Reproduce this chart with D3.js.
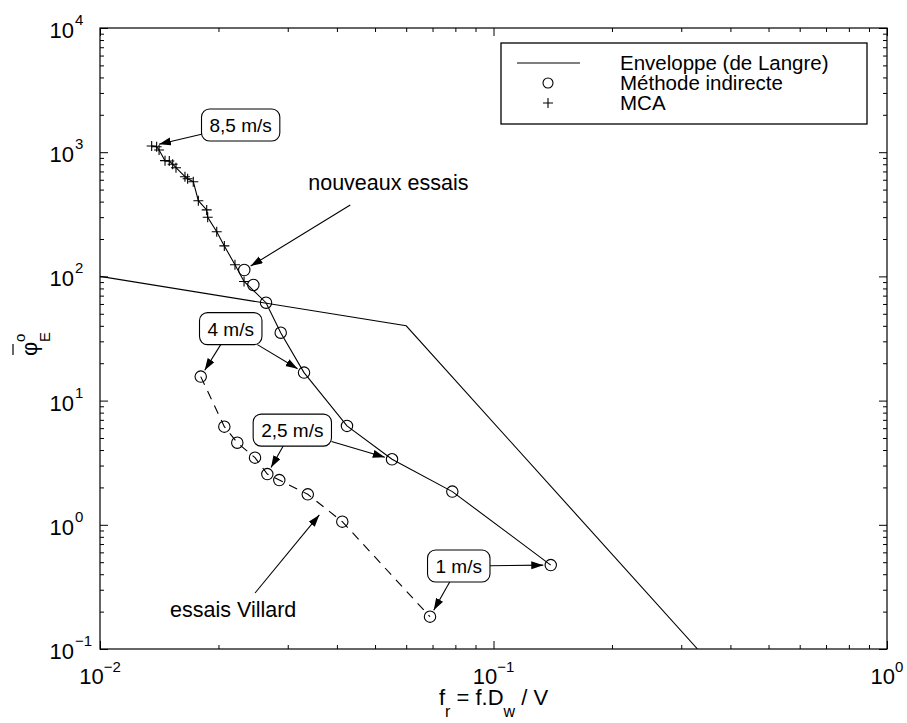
<!DOCTYPE html>
<html>
<head>
<meta charset="utf-8">
<script src="https://cdn.jsdelivr.net/npm/d3@7"></script>
<style>
body { margin: 0; background: #fff; }
text { font-family: "Liberation Sans", Arial, Helvetica, sans-serif; fill: #000; }
</style>
</head>
<body>
<svg id="chart" width="907" height="723"></svg>
<script>
// MCA (+)
const mcaFr = [0.01353, 0.01393, 0.01413, 0.01463, 0.0150, 0.0153, 0.0156, 0.01644, 0.0167, 0.01726, 0.01778, 0.01867, 0.01878, 0.0198, 0.0207, 0.02203, 0.02323];
const mcaPhi = [1122, 1107, 1042, 855, 849, 800, 750, 635, 612, 579, 407, 343, 299, 229, 176, 124, 91];
// Methode indirecte - nouveaux essais
const nouvFr = [0.02326, 0.02453, 0.02642, 0.02879, 0.0330, 0.04243, 0.05522, 0.07859, 0.1398];
const nouvPhi = [112.6, 85.3, 61.4, 35.2, 16.8, 6.25, 3.37, 1.85, 0.474];
// Methode indirecte - essais Villard
const villFr = [0.01803, 0.0207, 0.02233, 0.02477, 0.02662, 0.02855, 0.03373, 0.04128, 0.06897];
const villPhi = [15.6, 6.17, 4.58, 3.47, 2.56, 2.29, 1.76, 1.06, 0.182];
// Enveloppe (de Langre)
const envFr = [0.01, 0.06, 0.33];
const envPhi = [100, 40, 0.1];

const xDecades = [-2, -1, 0];
const yDecades = [-1, 0, 1, 2, 3, 4];
const legendLabels = ['Enveloppe (de Langre)', 'Méthode indirecte', 'MCA'];

(function() {
const svg = d3.select('svg#chart');
const margin = { top: 28, right: 20, bottom: 74, left: 100 };
const width = +svg.attr('width') - margin.left - margin.right;
const height = +svg.attr('height') - margin.top - margin.bottom;

const x = d3.scaleLog().domain([0.01, 1]).range([0, width]);
const y = d3.scaleLog().domain([0.1, 10000]).range([height, 0]);

const zip = (a, b) => a.map((v, i) => [v, b[i]]);
const mca = zip(mcaFr, mcaPhi);
const nouv = zip(nouvFr, nouvPhi);
const vill = zip(villFr, villPhi);
const env = zip(envFr, envPhi);
const series = { mca, nouv, vill };

const defs = svg.append('defs');
defs.append('clipPath').attr('id', 'clip')
  .append('rect').attr('width', width).attr('height', height);
defs.append('marker')
  .attr('id', 'arrow')
  .attr('markerUnits', 'userSpaceOnUse')
  .attr('markerWidth', 13).attr('markerHeight', 9)
  .attr('refX', 12).attr('refY', 4)
  .attr('orient', 'auto')
  .append('path').attr('d', 'M0,0L12,4L0,8Z').attr('fill', 'black');

const g = svg.append('g').attr('transform', `translate(${margin.left},${margin.top})`);

// ticks, inward on all sides
const isMajor = d => Math.abs(Math.log10(d) - Math.round(Math.log10(d))) < 1e-6;
function fixTicks(sel, attr) {
  sel.select('.domain').remove();
  sel.selectAll('.tick text').remove();
  sel.selectAll('.tick line')
    .attr('stroke', 'black')
    .attr(attr, function(d) {
      const v = +d3.select(this).attr(attr);
      return isMajor(d) ? v : v / 2;
    });
}
g.append('g').attr('transform', `translate(0,${height})`)
  .call(d3.axisBottom(x).tickSize(-8).tickFormat('')).call(fixTicks, 'y2');
g.append('g')
  .call(d3.axisTop(x).tickSize(-8).tickFormat('')).call(fixTicks, 'y2');
g.append('g')
  .call(d3.axisLeft(y).tickSize(-8).tickFormat('')).call(fixTicks, 'x2');
g.append('g').attr('transform', `translate(${width},0)`)
  .call(d3.axisRight(y).tickSize(-8).tickFormat('')).call(fixTicks, 'x2');

g.append('rect')
  .attr('width', width).attr('height', height)
  .attr('fill', 'none').attr('stroke', 'black').attr('stroke-width', 1.2);

// tick labels
const sup = e => (e < 0 ? '\u2212' + (-e) : '' + e);
xDecades.forEach(e => {
  const t = g.append('text')
    .attr('x', x(Math.pow(10, e))).attr('y', height + 35)
    .attr('text-anchor', 'middle').attr('font-size', 22);
  t.append('tspan').text('10');
  t.append('tspan').attr('dy', -12).attr('font-size', 15).text(sup(e));
});
yDecades.forEach(e => {
  const yy = y(Math.pow(10, e));
  g.append('text')
    .attr('x', -26).attr('y', yy + 10)
    .attr('text-anchor', 'end').attr('font-size', 22).text('10');
  g.append('text')
    .attr('x', -25).attr('y', yy - 3)
    .attr('font-size', 15).text(sup(e));
});

// axis titles
const xt = g.append('text')
  .attr('x', width / 2).attr('y', height + 56)
  .attr('text-anchor', 'middle').attr('font-size', 22);
xt.append('tspan').text('f');
xt.append('tspan').attr('dy', 12).attr('font-size', 16).text('r');
xt.append('tspan').attr('dy', -12).text(' = f.D');
xt.append('tspan').attr('dy', 12).attr('font-size', 16).text('w');
xt.append('tspan').attr('dy', -12).text(' / V');

const yt = svg.append('g').attr('transform', 'translate(37,356) rotate(-90)');
yt.append('text').attr('font-size', 22).text('\u03c6');
yt.append('text').attr('x', 14).attr('y', -12).attr('font-size', 15).text('o');
yt.append('text').attr('x', 14).attr('y', 13).attr('font-size', 15).text('E');
yt.append('line').attr('x1', 1).attr('x2', 12).attr('y1', -24).attr('y2', -24)
  .attr('stroke', 'black').attr('stroke-width', 1.2);

// lines
const plot = g.append('g').attr('clip-path', 'url(#clip)');
const line = d3.line().x(d => x(d[0])).y(d => y(d[1]));
plot.append('path').datum(env).attr('d', line)
  .attr('fill', 'none').attr('stroke', 'black').attr('stroke-width', 1.1);
plot.append('path').datum(mca.concat(nouv.slice(2))).attr('d', line)
  .attr('fill', 'none').attr('stroke', 'black').attr('stroke-width', 1.1);
plot.append('path').datum(vill).attr('d', line)
  .attr('fill', 'none').attr('stroke', 'black').attr('stroke-width', 1.1)
  .attr('stroke-dasharray', '9,7');

// markers
plot.selectAll('circle.pt').data(nouv.concat(vill)).join('circle')
  .attr('class', 'pt')
  .attr('cx', d => x(d[0])).attr('cy', d => y(d[1])).attr('r', 5.7)
  .attr('fill', 'none').attr('stroke', 'black').attr('stroke-width', 1.1);
plot.selectAll('path.plus').data(mca).join('path')
  .attr('class', 'plus')
  .attr('transform', d => `translate(${x(d[0])},${y(d[1])})`)
  .attr('d', 'M-5,0H5M0,-5V5')
  .attr('stroke', 'black').attr('stroke-width', 1.1);

// annotations
const px = p => [margin.left + x(p[0]), margin.top + y(p[1])];
const boxAnnos = [
  { label: '8,5 m/s', targets: [['mca', 0]], dx: 89, dy: -21 },
  { label: '4 m/s', targets: [['vill', 0], ['nouv', 4]], dx: 30, dy: -48 },
  { label: '2,5 m/s', targets: [['vill', 4], ['nouv', 6]], dx: 25, dy: -44 },
  { label: '1 m/s', targets: [['nouv', 8], ['vill', 8]], dx: -92, dy: 1 },
];
const ann = svg.append('g');
function arrow(from, to, gap) {
  const ddx = to[0] - from[0], ddy = to[1] - from[1];
  const len = Math.hypot(ddx, ddy);
  const tip = [to[0] - ddx / len * gap, to[1] - ddy / len * gap];
  ann.append('line')
    .attr('x1', from[0]).attr('y1', from[1]).attr('x2', tip[0]).attr('y2', tip[1])
    .attr('stroke', 'black').attr('stroke-width', 1.1)
    .attr('marker-end', 'url(#arrow)');
}
boxAnnos.forEach(a => {
  const t0 = px(series[a.targets[0][0]][a.targets[0][1]]);
  const cx = t0[0] + a.dx, cy = t0[1] + a.dy;
  const bg = ann.append('g');
  const rect = bg.append('rect');
  const txt = bg.append('text')
    .attr('x', cx).attr('y', cy + 7)
    .attr('text-anchor', 'middle').attr('font-size', 19).text(a.label);
  const hw = txt.node().getComputedTextLength() / 2 + 8, hh = 16;
  rect.attr('x', cx - hw).attr('y', cy - hh).attr('width', 2 * hw).attr('height', 2 * hh)
    .attr('rx', 8).attr('fill', 'white').attr('stroke', 'black').attr('stroke-width', 1.1);
  a.targets.forEach(tg => {
    const p = px(series[tg[0]][tg[1]]);
    const ddx = p[0] - cx, ddy = p[1] - cy;
    const t = Math.min(Math.abs(hw / ddx), Math.abs(hh / ddy));
    arrow([cx + ddx * t, cy + ddy * t], p, 7.5);
  });
});

const geo = (a, b) => [Math.sqrt(a[0] * b[0]), Math.sqrt(a[1] * b[1])];
const textAnnos = [
  { label: 'nouveaux essais', target: nouv[0], dx: 64, dy: -80, ax: 42, ay: 15, gap: 7.5 },
  { label: 'essais Villard', target: geo(vill[6], vill[7]), dx: -155, dy: 109, ax: 85, ay: -24, gap: 9 },
];
textAnnos.forEach(a => {
  const p = px(a.target);
  const tx = p[0] + a.dx, ty = p[1] + a.dy;
  ann.append('text').attr('x', tx).attr('y', ty).attr('font-size', 21.5).text(a.label);
  arrow([tx + a.ax, ty + a.ay], p, a.gap);
});

// legend
const lg = svg.append('g').attr('transform', 'translate(501,43)');
lg.append('rect').attr('width', 366).attr('height', 81)
  .attr('fill', 'white').attr('stroke', 'black').attr('stroke-width', 1.3);
lg.append('line').attr('x1', 16).attr('x2', 79).attr('y1', 20).attr('y2', 20)
  .attr('stroke', 'black').attr('stroke-width', 1.1);
lg.append('circle').attr('cx', 47).attr('cy', 40).attr('r', 5)
  .attr('fill', 'none').attr('stroke', 'black').attr('stroke-width', 1.1);
lg.append('path').attr('transform', 'translate(47,60)').attr('d', 'M-5,0H5M0,-5V5')
  .attr('stroke', 'black').attr('stroke-width', 1.1);
lg.selectAll('text').data(legendLabels).join('text')
  .attr('x', 119).attr('y', (d, i) => 27 + i * 20)
  .attr('font-size', 20.5).text(d => d);
})();
</script>
</body>
</html>
